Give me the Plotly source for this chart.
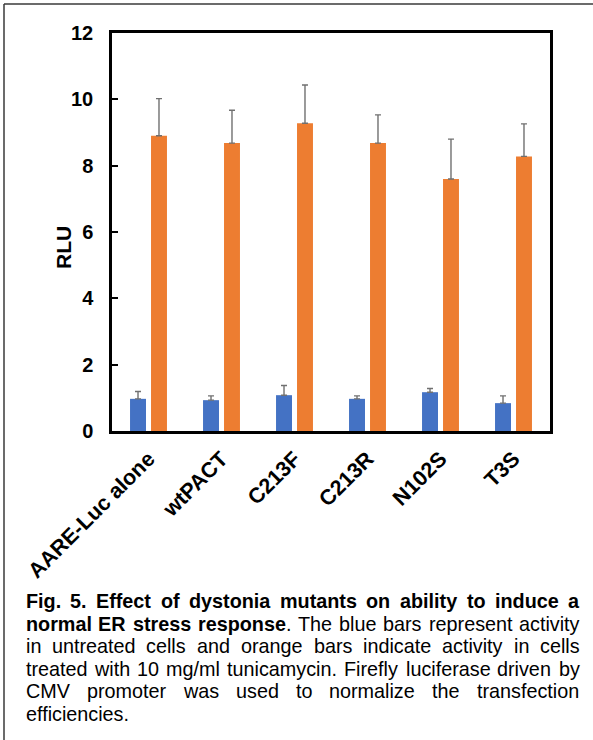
import plotly.graph_objects as go

# ---------------- data ----------------
categories = ["AARE-Luc alone", "wtPACT", "C213F", "C213R", "N102S", "T3S"]
untreated = [0.97, 0.93, 1.08, 0.97, 1.17, 0.84]
untreated_err = [0.22, 0.13, 0.29, 0.09, 0.11, 0.22]
tunicamycin = [8.90, 8.68, 9.28, 8.68, 7.60, 8.28]
tunicamycin_err = [1.12, 0.99, 1.15, 0.85, 1.20, 0.98]
y_ticks = [0, 2, 4, 6, 8, 10, 12]
y_title = "RLU"

caption_lines = [
    [("Fig.", "b"), ("5.", "b"), ("Effect", "b"), ("of", "b"), ("dystonia", "b"), ("mutants", "b"),
     ("on", "b"), ("ability", "b"), ("to", "b"), ("induce", "b"), ("a", "b")],
    [("normal", "b"), ("ER", "b"), ("stress", "b"), ("response", "b+."), ("The", "r"), ("blue", "r"),
     ("bars", "r"), ("represent", "r"), ("activity", "r")],
    [("in", "r"), ("untreated", "r"), ("cells", "r"), ("and", "r"), ("orange", "r"), ("bars", "r"),
     ("indicate", "r"), ("activity", "r"), ("in", "r"), ("cells", "r")],
    [("treated", "r"), ("with", "r"), ("10", "r"), ("mg/ml", "r"), ("tunicamycin.", "r"), ("Firefly", "r"),
     ("luciferase", "r"), ("driven", "r"), ("by", "r")],
    [("CMV", "r"), ("promoter", "r"), ("was", "r"), ("used", "r"), ("to", "r"), ("normalize", "r"),
     ("the", "r"), ("transfection", "r")],
    [("efficiencies.", "r")],
]

# ---------------- layout geometry ----------------
W, H = 593, 740
ML, MR, MT, MB = 112, 43, 33, 309
PW, PH = W - ML - MR, H - MT - MB


def px_x(px):
    return (px - ML) / PW


def px_y(py):
    return 1 - (py - MT) / PH


FONT = "Liberation Sans, Arial, Helvetica, sans-serif"
BLUE = "#4472C4"
ORANGE = "#ED7D31"
ERR = "#707070"

fig = go.Figure()
fig.add_trace(go.Bar(
    x=categories, y=untreated, name="Untreated", marker=dict(color=BLUE, line=dict(width=0)),
    error_y=dict(type="data", symmetric=False, array=untreated_err,
                 arrayminus=[0] * len(untreated), color=ERR, thickness=1.4, width=3),
))
fig.add_trace(go.Bar(
    x=categories, y=tunicamycin, name="Tunicamycin", marker=dict(color=ORANGE, line=dict(width=0)),
    error_y=dict(type="data", symmetric=False, array=tunicamycin_err,
                 arrayminus=[0] * len(tunicamycin), color=ERR, thickness=1.4, width=3),
))

fig.update_layout(
    width=W, height=H, autosize=False,
    margin=dict(l=ML, r=MR, t=MT, b=MB, pad=0),
    paper_bgcolor="white", plot_bgcolor="white",
    showlegend=False, barmode="group", bargap=0.425, bargroupgap=0.24,
    font=dict(family=FONT, color="black"),
)
fig.update_yaxes(
    range=[0, 12], tickvals=y_ticks, showgrid=False, zeroline=False,
    showline=True, linecolor="black", linewidth=2.5, mirror=True,
    ticks="inside", ticklen=6, tickwidth=2, tickcolor="black",
    tickfont=dict(family=FONT, size=20, color="black", weight="bold"),
    ticklabelstandoff=12,
)
fig.update_xaxes(
    showgrid=False, zeroline=False, showline=True, linecolor="black", linewidth=2.5, mirror=True,
    ticks="", tickangle=-45, ticklabelstandoff=4,
    tickfont=dict(family=FONT, size=21.5, color="black", weight="bold"),
)

annotations = []
# y axis title
annotations.append(dict(
    text="<b>" + y_title + "</b>", xref="paper", yref="paper", x=px_x(64), y=px_y(248),
    xanchor="center", yanchor="middle", textangle=-90, showarrow=False,
    font=dict(family=FONT, size=21, color="black"),
))

# ---------------- caption (justified, word by word) ----------------
REG = {' ': 278, 'a': 556, 'b': 556, 'c': 500, 'd': 556, 'e': 556, 'f': 278, 'g': 556, 'h': 556,
       'i': 222, 'j': 222, 'k': 500, 'l': 222, 'm': 833, 'n': 556, 'o': 556, 'p': 556, 'q': 556,
       'r': 333, 's': 500, 't': 278, 'u': 556, 'v': 500, 'w': 722, 'x': 500, 'y': 500, 'z': 500,
       'C': 722, 'F': 611, 'M': 833, 'T': 611, 'V': 667, '.': 278, '/': 278, '0': 556, '1': 556}
BOLD = {' ': 278, 'a': 556, 'b': 611, 'c': 556, 'd': 611, 'e': 556, 'f': 333, 'g': 611, 'h': 611,
        'i': 278, 'l': 278, 'm': 889, 'n': 611, 'o': 611, 'p': 611, 'r': 389, 's': 556, 't': 333,
        'u': 611, 'y': 556, 'E': 667, 'F': 611, 'R': 722, '.': 278, '5': 556}
CAP_SIZE = 19.8
X_LEFT, X_RIGHT = 24.5, 578.5
line_centers = [601, 623.5, 646, 668.5, 691, 713.5]


def width(word, style):
    if style == "b":
        return sum(BOLD.get(c, 556) for c in word) * CAP_SIZE / 1000
    if style == "b+.":
        return (sum(BOLD.get(c, 556) for c in word) + REG['.']) * CAP_SIZE / 1000
    return sum(REG.get(c, 556) for c in word) * CAP_SIZE / 1000


def markup(word, style):
    if style == "b":
        return "<b>" + word + "</b>"
    if style == "b+.":
        return "<b>" + word + "</b>."
    return word


for li, words in enumerate(caption_lines):
    widths = [width(w, s) for w, s in words]
    last = li == len(caption_lines) - 1
    if last or len(words) == 1:
        gap = REG[' '] * CAP_SIZE / 1000
    else:
        gap = (X_RIGHT - X_LEFT - sum(widths)) / (len(words) - 1)
    xpos = X_LEFT
    for (w, s), wd in zip(words, widths):
        annotations.append(dict(
            text=markup(w, s), xref="paper", yref="paper", x=px_x(xpos), y=px_y(line_centers[li]),
            xanchor="left", yanchor="middle", showarrow=False, borderpad=0,
            font=dict(family=FONT, size=CAP_SIZE, color="black"),
        ))
        xpos += wd + gap

fig.update_layout(annotations=annotations)

# outer frame (open at right and bottom)
fig.add_shape(type="line", xref="paper", yref="paper", x0=px_x(4), x1=px_x(W + 5),
              y0=px_y(4), y1=px_y(4), line=dict(color="#3a3a3a", width=1.5))
fig.add_shape(type="line", xref="paper", yref="paper", x0=px_x(4), x1=px_x(4),
              y0=px_y(4), y1=px_y(H + 5), line=dict(color="#3a3a3a", width=1.5))

fig.write_html(
    "out.html",
    config={"displayModeBar": False},
    post_script="document.body.style.margin='0';document.body.style.overflow='hidden';",
)
